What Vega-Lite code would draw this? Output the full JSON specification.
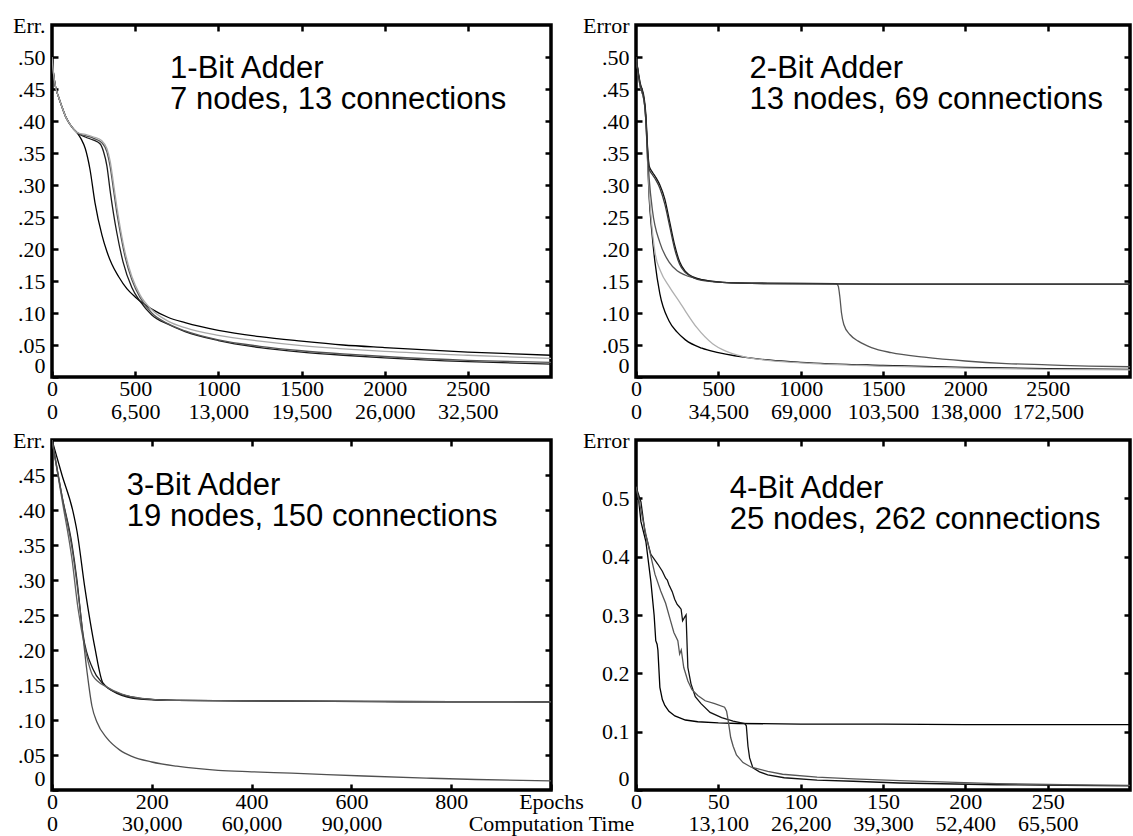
{
  "$schema": "https://vega.github.io/schema/vega-lite/v6.json",
  "background": "white",
  "padding": {"left": 10, "top": 12, "right": 0, "bottom": 0},
  "autosize": {"type": "pad"},
  "config": {
    "view": {"stroke": "#000000", "strokeWidth": 3.5, "strokeOpacity": 1},
    "axis": {"grid": false, "domain": false, "ticks": true, "tickColor": "#000000", "tickOpacity": 1, "tickWidth": 2.5, "tickSize": 6, "offset": -6, "labelFont": "Liberation Serif", "labelFontSize": 22, "labelColor": "black", "titleFont": "Liberation Serif", "titleFontSize": 22, "titleFontWeight": "normal", "titleColor": "black", "labelOverlap": false},
    "line": {"strokeWidth": 1.3},
    "text": {"font": "Liberation Sans", "fontSize": 31, "lineHeight": 31, "align": "left", "baseline": "alphabetic", "color": "black"}
  },
  "columns": 2,
  "spacing": {"row": 63, "column": 85},
  "bounds": "flush",
  "resolve": {"scale": {"color": "independent"}},
  "datasets": {
    "p1": [
      {"run":"a","epoch":0,"err":0.5},{"run":"a","epoch":10,"err":0.472},{"run":"a","epoch":20,"err":0.455},{"run":"a","epoch":40,"err":0.437},{"run":"a","epoch":60,"err":0.422},{"run":"a","epoch":80,"err":0.408},{"run":"a","epoch":100,"err":0.398},{"run":"a","epoch":125,"err":0.389},{"run":"a","epoch":150,"err":0.382},{"run":"a","epoch":175,"err":0.372},{"run":"a","epoch":200,"err":0.357},{"run":"a","epoch":228,"err":0.325},{"run":"a","epoch":258,"err":0.273},{"run":"a","epoch":300,"err":0.222},{"run":"a","epoch":330,"err":0.196},{"run":"a","epoch":360,"err":0.176},{"run":"a","epoch":400,"err":0.157},{"run":"a","epoch":450,"err":0.138},{"run":"a","epoch":500,"err":0.125},{"run":"a","epoch":600,"err":0.106},{"run":"a","epoch":700,"err":0.093},{"run":"a","epoch":800,"err":0.085},{"run":"a","epoch":1000,"err":0.073},{"run":"a","epoch":1250,"err":0.063},{"run":"a","epoch":1500,"err":0.056},{"run":"a","epoch":1750,"err":0.05},{"run":"a","epoch":2000,"err":0.046},{"run":"a","epoch":2500,"err":0.039},{"run":"a","epoch":3000,"err":0.034},
      {"run":"b","epoch":0,"err":0.5},{"run":"b","epoch":10,"err":0.472},{"run":"b","epoch":20,"err":0.455},{"run":"b","epoch":40,"err":0.437},{"run":"b","epoch":60,"err":0.422},{"run":"b","epoch":80,"err":0.408},{"run":"b","epoch":100,"err":0.398},{"run":"b","epoch":125,"err":0.389},{"run":"b","epoch":150,"err":0.382},{"run":"b","epoch":200,"err":0.375},{"run":"b","epoch":250,"err":0.37},{"run":"b","epoch":290,"err":0.364},{"run":"b","epoch":310,"err":0.352},{"run":"b","epoch":330,"err":0.33},{"run":"b","epoch":350,"err":0.29},{"run":"b","epoch":370,"err":0.255},{"run":"b","epoch":390,"err":0.225},{"run":"b","epoch":427,"err":0.18},{"run":"b","epoch":480,"err":0.14},{"run":"b","epoch":530,"err":0.118},{"run":"b","epoch":600,"err":0.097},{"run":"b","epoch":700,"err":0.082},{"run":"b","epoch":800,"err":0.071},{"run":"b","epoch":1000,"err":0.057},{"run":"b","epoch":1250,"err":0.046},{"run":"b","epoch":1500,"err":0.039},{"run":"b","epoch":1750,"err":0.034},{"run":"b","epoch":2000,"err":0.03},{"run":"b","epoch":2500,"err":0.024},{"run":"b","epoch":3000,"err":0.02},
      {"run":"c","epoch":0,"err":0.5},{"run":"c","epoch":10,"err":0.472},{"run":"c","epoch":20,"err":0.455},{"run":"c","epoch":40,"err":0.437},{"run":"c","epoch":60,"err":0.422},{"run":"c","epoch":80,"err":0.408},{"run":"c","epoch":100,"err":0.398},{"run":"c","epoch":125,"err":0.389},{"run":"c","epoch":150,"err":0.382},{"run":"c","epoch":200,"err":0.377},{"run":"c","epoch":250,"err":0.373},{"run":"c","epoch":300,"err":0.366},{"run":"c","epoch":330,"err":0.352},{"run":"c","epoch":350,"err":0.328},{"run":"c","epoch":370,"err":0.292},{"run":"c","epoch":390,"err":0.256},{"run":"c","epoch":410,"err":0.226},{"run":"c","epoch":440,"err":0.187},{"run":"c","epoch":480,"err":0.152},{"run":"c","epoch":530,"err":0.124},{"run":"c","epoch":600,"err":0.1},{"run":"c","epoch":700,"err":0.083},{"run":"c","epoch":800,"err":0.072},{"run":"c","epoch":1000,"err":0.058},{"run":"c","epoch":1250,"err":0.048},{"run":"c","epoch":1500,"err":0.041},{"run":"c","epoch":1750,"err":0.036},{"run":"c","epoch":2000,"err":0.032},{"run":"c","epoch":2500,"err":0.026},{"run":"c","epoch":3000,"err":0.023},
      {"run":"d","epoch":0,"err":0.5},{"run":"d","epoch":10,"err":0.472},{"run":"d","epoch":20,"err":0.455},{"run":"d","epoch":40,"err":0.437},{"run":"d","epoch":60,"err":0.422},{"run":"d","epoch":80,"err":0.408},{"run":"d","epoch":100,"err":0.398},{"run":"d","epoch":125,"err":0.389},{"run":"d","epoch":150,"err":0.382},{"run":"d","epoch":200,"err":0.379},{"run":"d","epoch":250,"err":0.375},{"run":"d","epoch":300,"err":0.369},{"run":"d","epoch":330,"err":0.357},{"run":"d","epoch":350,"err":0.337},{"run":"d","epoch":370,"err":0.302},{"run":"d","epoch":390,"err":0.266},{"run":"d","epoch":410,"err":0.234},{"run":"d","epoch":440,"err":0.194},{"run":"d","epoch":480,"err":0.157},{"run":"d","epoch":530,"err":0.128},{"run":"d","epoch":600,"err":0.105},{"run":"d","epoch":700,"err":0.087},{"run":"d","epoch":800,"err":0.077},{"run":"d","epoch":1000,"err":0.065},{"run":"d","epoch":1250,"err":0.056},{"run":"d","epoch":1500,"err":0.049},{"run":"d","epoch":1750,"err":0.044},{"run":"d","epoch":2000,"err":0.04},{"run":"d","epoch":2500,"err":0.034},{"run":"d","epoch":3000,"err":0.029}
    ],
    "p2": [
      {"run":"e","epoch":0,"err":0.5},{"run":"e","epoch":25,"err":0.455},{"run":"e","epoch":50,"err":0.43},{"run":"e","epoch":60,"err":0.4},{"run":"e","epoch":70,"err":0.34},{"run":"e","epoch":80,"err":0.28},{"run":"e","epoch":95,"err":0.23},{"run":"e","epoch":115,"err":0.18},{"run":"e","epoch":145,"err":0.13},{"run":"e","epoch":200,"err":0.088},{"run":"e","epoch":250,"err":0.07},{"run":"e","epoch":300,"err":0.058},{"run":"e","epoch":400,"err":0.045},{"run":"e","epoch":500,"err":0.038},{"run":"e","epoch":750,"err":0.028},{"run":"e","epoch":1000,"err":0.023},{"run":"e","epoch":1500,"err":0.018},{"run":"e","epoch":2000,"err":0.015},{"run":"e","epoch":2500,"err":0.013},{"run":"e","epoch":3000,"err":0.012},
      {"run":"f","epoch":0,"err":0.5},{"run":"f","epoch":25,"err":0.455},{"run":"f","epoch":50,"err":0.43},{"run":"f","epoch":60,"err":0.4},{"run":"f","epoch":70,"err":0.345},{"run":"f","epoch":80,"err":0.29},{"run":"f","epoch":95,"err":0.24},{"run":"f","epoch":115,"err":0.195},{"run":"f","epoch":150,"err":0.165},{"run":"f","epoch":200,"err":0.142},{"run":"f","epoch":265,"err":0.117},{"run":"f","epoch":300,"err":0.103},{"run":"f","epoch":370,"err":0.077},{"run":"f","epoch":465,"err":0.052},{"run":"f","epoch":550,"err":0.04},{"run":"f","epoch":650,"err":0.032},{"run":"f","epoch":800,"err":0.026},{"run":"f","epoch":1000,"err":0.022},{"run":"f","epoch":1500,"err":0.017},{"run":"f","epoch":2000,"err":0.014},{"run":"f","epoch":2500,"err":0.012},{"run":"f","epoch":3000,"err":0.011},
      {"run":"g","epoch":0,"err":0.5},{"run":"g","epoch":25,"err":0.455},{"run":"g","epoch":50,"err":0.43},{"run":"g","epoch":60,"err":0.4},{"run":"g","epoch":70,"err":0.35},{"run":"g","epoch":80,"err":0.31},{"run":"g","epoch":100,"err":0.26},{"run":"g","epoch":145,"err":0.21},{"run":"g","epoch":200,"err":0.18},{"run":"g","epoch":250,"err":0.166},{"run":"g","epoch":300,"err":0.159},{"run":"g","epoch":400,"err":0.152},{"run":"g","epoch":525,"err":0.148},{"run":"g","epoch":800,"err":0.147},{"run":"g","epoch":1215,"err":0.146},{"run":"g","epoch":1228,"err":0.142},{"run":"g","epoch":1238,"err":0.125},{"run":"g","epoch":1248,"err":0.1},{"run":"g","epoch":1262,"err":0.082},{"run":"g","epoch":1300,"err":0.066},{"run":"g","epoch":1350,"err":0.056},{"run":"g","epoch":1430,"err":0.046},{"run":"g","epoch":1550,"err":0.038},{"run":"g","epoch":1750,"err":0.031},{"run":"g","epoch":2000,"err":0.025},{"run":"g","epoch":2250,"err":0.021},{"run":"g","epoch":2500,"err":0.019},{"run":"g","epoch":2750,"err":0.017},{"run":"g","epoch":3000,"err":0.016},
      {"run":"h","epoch":0,"err":0.5},{"run":"h","epoch":25,"err":0.46},{"run":"h","epoch":50,"err":0.435},{"run":"h","epoch":60,"err":0.41},{"run":"h","epoch":70,"err":0.36},{"run":"h","epoch":80,"err":0.33},{"run":"h","epoch":100,"err":0.32},{"run":"h","epoch":120,"err":0.312},{"run":"h","epoch":145,"err":0.3},{"run":"h","epoch":175,"err":0.278},{"run":"h","epoch":205,"err":0.242},{"run":"h","epoch":235,"err":0.206},{"run":"h","epoch":265,"err":0.18},{"run":"h","epoch":300,"err":0.165},{"run":"h","epoch":350,"err":0.156},{"run":"h","epoch":400,"err":0.152},{"run":"h","epoch":525,"err":0.148},{"run":"h","epoch":800,"err":0.146},{"run":"h","epoch":1500,"err":0.145},{"run":"h","epoch":3000,"err":0.145},
      {"run":"i","epoch":0,"err":0.5},{"run":"i","epoch":25,"err":0.458},{"run":"i","epoch":50,"err":0.432},{"run":"i","epoch":60,"err":0.405},{"run":"i","epoch":70,"err":0.355},{"run":"i","epoch":80,"err":0.325},{"run":"i","epoch":100,"err":0.316},{"run":"i","epoch":120,"err":0.308},{"run":"i","epoch":145,"err":0.295},{"run":"i","epoch":175,"err":0.27},{"run":"i","epoch":205,"err":0.235},{"run":"i","epoch":235,"err":0.2},{"run":"i","epoch":265,"err":0.176},{"run":"i","epoch":300,"err":0.163},{"run":"i","epoch":350,"err":0.155},{"run":"i","epoch":400,"err":0.151},{"run":"i","epoch":525,"err":0.148},{"run":"i","epoch":800,"err":0.146},{"run":"i","epoch":1500,"err":0.145},{"run":"i","epoch":3000,"err":0.145}
    ],
    "p3": [
      {"run":"j","epoch":0,"err":0.5},{"run":"j","epoch":20,"err":0.45},{"run":"j","epoch":42,"err":0.398},{"run":"j","epoch":50,"err":0.37},{"run":"j","epoch":66,"err":0.288},{"run":"j","epoch":86,"err":0.203},{"run":"j","epoch":102,"err":0.153},{"run":"j","epoch":130,"err":0.139},{"run":"j","epoch":176,"err":0.131},{"run":"j","epoch":250,"err":0.128},{"run":"j","epoch":477,"err":0.127},{"run":"j","epoch":700,"err":0.126},{"run":"j","epoch":1000,"err":0.126},
      {"run":"k","epoch":0,"err":0.5},{"run":"k","epoch":20,"err":0.42},{"run":"k","epoch":40,"err":0.351},{"run":"k","epoch":50,"err":0.3},{"run":"k","epoch":62,"err":0.223},{"run":"k","epoch":82,"err":0.173},{"run":"k","epoch":102,"err":0.152},{"run":"k","epoch":130,"err":0.138},{"run":"k","epoch":176,"err":0.13},{"run":"k","epoch":250,"err":0.128},{"run":"k","epoch":500,"err":0.127},{"run":"k","epoch":1000,"err":0.126},
      {"run":"l","epoch":0,"err":0.5},{"run":"l","epoch":20,"err":0.415},{"run":"l","epoch":40,"err":0.33},{"run":"l","epoch":52,"err":0.26},{"run":"l","epoch":66,"err":0.203},{"run":"l","epoch":82,"err":0.163},{"run":"l","epoch":110,"err":0.147},{"run":"l","epoch":140,"err":0.137},{"run":"l","epoch":180,"err":0.131},{"run":"l","epoch":250,"err":0.128},{"run":"l","epoch":500,"err":0.127},{"run":"l","epoch":1000,"err":0.126},
      {"run":"m","epoch":0,"err":0.5},{"run":"m","epoch":20,"err":0.42},{"run":"m","epoch":42,"err":0.337},{"run":"m","epoch":56,"err":0.26},{"run":"m","epoch":70,"err":0.17},{"run":"m","epoch":80,"err":0.12},{"run":"m","epoch":90,"err":0.097},{"run":"m","epoch":110,"err":0.074},{"run":"m","epoch":136,"err":0.057},{"run":"m","epoch":160,"err":0.048},{"run":"m","epoch":200,"err":0.04},{"run":"m","epoch":250,"err":0.034},{"run":"m","epoch":333,"err":0.028},{"run":"m","epoch":400,"err":0.026},{"run":"m","epoch":480,"err":0.024},{"run":"m","epoch":625,"err":0.02},{"run":"m","epoch":750,"err":0.017},{"run":"m","epoch":850,"err":0.015},{"run":"m","epoch":1000,"err":0.013}
    ],
    "p4": [
      {"run":"n","epoch":0,"err":0.52},{"run":"n","epoch":1.5,"err":0.5},{"run":"n","epoch":3,"err":0.46},{"run":"n","epoch":6,"err":0.426},{"run":"n","epoch":9,"err":0.358},{"run":"n","epoch":11,"err":0.3},{"run":"n","epoch":12,"err":0.256},{"run":"n","epoch":12.8,"err":0.25},{"run":"n","epoch":13.3,"err":0.24},{"run":"n","epoch":14.5,"err":0.176},{"run":"n","epoch":16,"err":0.155},{"run":"n","epoch":17.5,"err":0.145},{"run":"n","epoch":20,"err":0.135},{"run":"n","epoch":23.6,"err":0.127},{"run":"n","epoch":30,"err":0.12},{"run":"n","epoch":37.5,"err":0.117},{"run":"n","epoch":50,"err":0.115},{"run":"n","epoch":62,"err":0.114},{"run":"n","epoch":100,"err":0.113},{"run":"n","epoch":150,"err":0.113},{"run":"n","epoch":200,"err":0.112},{"run":"n","epoch":300,"err":0.112},
      {"run":"o","epoch":0,"err":0.52},{"run":"o","epoch":3,"err":0.494},{"run":"o","epoch":5.4,"err":0.443},{"run":"o","epoch":9,"err":0.404},{"run":"o","epoch":13.3,"err":0.387},{"run":"o","epoch":16,"err":0.375},{"run":"o","epoch":18,"err":0.363},{"run":"o","epoch":19,"err":0.36},{"run":"o","epoch":20,"err":0.352},{"run":"o","epoch":22,"err":0.34},{"run":"o","epoch":23.5,"err":0.327},{"run":"o","epoch":25,"err":0.318},{"run":"o","epoch":26,"err":0.315},{"run":"o","epoch":27.4,"err":0.31},{"run":"o","epoch":28.3,"err":0.29},{"run":"o","epoch":29.3,"err":0.295},{"run":"o","epoch":30.4,"err":0.3},{"run":"o","epoch":31.5,"err":0.21},{"run":"o","epoch":33.4,"err":0.182},{"run":"o","epoch":36,"err":0.16},{"run":"o","epoch":39.5,"err":0.148},{"run":"o","epoch":45,"err":0.133},{"run":"o","epoch":52,"err":0.124},{"run":"o","epoch":59,"err":0.118},{"run":"o","epoch":66,"err":0.114},{"run":"o","epoch":67,"err":0.11},{"run":"o","epoch":68,"err":0.075},{"run":"o","epoch":69,"err":0.055},{"run":"o","epoch":71,"err":0.038},{"run":"o","epoch":75,"err":0.031},{"run":"o","epoch":80,"err":0.026},{"run":"o","epoch":90,"err":0.021},{"run":"o","epoch":110,"err":0.017},{"run":"o","epoch":132,"err":0.015},{"run":"o","epoch":160,"err":0.012},{"run":"o","epoch":219,"err":0.009},{"run":"o","epoch":260,"err":0.008},{"run":"o","epoch":300,"err":0.007},
      {"run":"p","epoch":0,"err":0.52},{"run":"p","epoch":3,"err":0.48},{"run":"p","epoch":6,"err":0.438},{"run":"p","epoch":11.5,"err":0.37},{"run":"p","epoch":15,"err":0.341},{"run":"p","epoch":18,"err":0.32},{"run":"p","epoch":21,"err":0.29},{"run":"p","epoch":23,"err":0.27},{"run":"p","epoch":25.4,"err":0.256},{"run":"p","epoch":26.5,"err":0.233},{"run":"p","epoch":27.5,"err":0.24},{"run":"p","epoch":29,"err":0.21},{"run":"p","epoch":31.5,"err":0.187},{"run":"p","epoch":34,"err":0.172},{"run":"p","epoch":37.5,"err":0.162},{"run":"p","epoch":42,"err":0.153},{"run":"p","epoch":47.8,"err":0.148},{"run":"p","epoch":53.8,"err":0.142},{"run":"p","epoch":55,"err":0.135},{"run":"p","epoch":56,"err":0.119},{"run":"p","epoch":57.5,"err":0.09},{"run":"p","epoch":59,"err":0.075},{"run":"p","epoch":61,"err":0.06},{"run":"p","epoch":65,"err":0.047},{"run":"p","epoch":70,"err":0.039},{"run":"p","epoch":80,"err":0.032},{"run":"p","epoch":89,"err":0.027},{"run":"p","epoch":110,"err":0.022},{"run":"p","epoch":132,"err":0.019},{"run":"p","epoch":160,"err":0.016},{"run":"p","epoch":219,"err":0.011},{"run":"p","epoch":260,"err":0.009},{"run":"p","epoch":300,"err":0.008}
    ]
  },
  "concat": [
    {
      "width": 499, "height": 352,
      "view": {"stroke": "#000000", "strokeWidth": 3.5, "strokeOpacity": 1},
      "resolve": {"axis": {"x": "independent", "y": "independent"}},
      "layer": [
        {
          "data": {"name": "p1"},
          "mark": {"type": "line", "interpolate": "monotone", "clip": true},
          "encoding": {
            "x": {"field": "epoch", "type": "quantitative", "scale": {"domain": [0, 3000], "nice": false}, "axis": {"orient": "bottom", "offset": -6, "values": [0, 500, 1000, 1500, 2000, 2500], "labelExpr": "[format(datum.value, 'd'), format(datum.value * 13, ',')]", "labelBaseline": "top", "labelPadding": 1, "labelLineHeight": 23, "labelFlush": false, "title": null, "domain": false, "ticks": true, "tickColor": "#000000", "tickOpacity": 1, "tickWidth": 2.5, "tickSize": 6}},
            "y": {"field": "err", "type": "quantitative", "scale": {"domain": [0, 0.55], "nice": false}, "axis": {"orient": "left", "offset": -6, "values": [0, 0.05, 0.1, 0.15, 0.2, 0.25, 0.3, 0.35, 0.4, 0.45, 0.5], "labelExpr": "datum.value == 0 ? '0' : replace(format(datum.value, '.2f'), '0.', '.')", "labelFlush": true, "labelFlushOffset": 0, "labelPadding": 7, "title": "Err.", "titleAngle": 0, "titleX": -13, "titleY": 0, "titleAlign": "right", "titleBaseline": "middle", "domain": false, "ticks": true, "tickColor": "#000000", "tickOpacity": 1, "tickWidth": 2.5, "tickSize": 6}},
            "color": {"field": "run", "type": "nominal", "scale": {"domain": ["a", "b", "c", "d"], "range": ["#000000", "#1a1a1a", "#555555", "#a8a8a8"]}, "legend": null}
          }
        },
        {
          "data": {"values": [{}]},
          "mark": {"type": "text"},
          "encoding": {
            "x": {"datum": 710, "type": "quantitative", "axis": {"orient": "top", "offset": -6, "values": [500, 1000, 1500, 2000, 2500], "labels": false, "title": null, "domain": false, "ticks": true, "tickColor": "#000000", "tickOpacity": 1, "tickWidth": 2.5, "tickSize": 6}},
            "y": {"datum": 0.467, "type": "quantitative", "axis": {"orient": "right", "offset": -6, "values": [0.05, 0.1, 0.15, 0.2, 0.25, 0.3, 0.35, 0.4, 0.45, 0.5], "labels": false, "title": null, "domain": false, "ticks": true, "tickColor": "#000000", "tickOpacity": 1, "tickWidth": 2.5, "tickSize": 6}},
            "text": {"value": ["1-Bit Adder", "7 nodes, 13 connections"]}
          }
        }
      ]
    },
    {
      "width": 494, "height": 352,
      "view": {"stroke": "#000000", "strokeWidth": 3.5, "strokeOpacity": 1},
      "resolve": {"axis": {"x": "independent", "y": "independent"}},
      "layer": [
        {
          "data": {"name": "p2"},
          "mark": {"type": "line", "interpolate": "monotone", "clip": true},
          "encoding": {
            "x": {"field": "epoch", "type": "quantitative", "scale": {"domain": [0, 3000], "nice": false}, "axis": {"orient": "bottom", "offset": -6, "values": [0, 500, 1000, 1500, 2000, 2500], "labelExpr": "[format(datum.value, 'd'), format(datum.value * 69, ',')]", "labelBaseline": "top", "labelPadding": 1, "labelLineHeight": 23, "labelFlush": false, "title": null, "domain": false, "ticks": true, "tickColor": "#000000", "tickOpacity": 1, "tickWidth": 2.5, "tickSize": 6}},
            "y": {"field": "err", "type": "quantitative", "scale": {"domain": [0, 0.55], "nice": false}, "axis": {"orient": "left", "offset": -6, "values": [0, 0.05, 0.1, 0.15, 0.2, 0.25, 0.3, 0.35, 0.4, 0.45, 0.5], "labelExpr": "datum.value == 0 ? '0' : replace(format(datum.value, '.2f'), '0.', '.')", "labelFlush": true, "labelFlushOffset": 0, "labelPadding": 7, "title": "Error", "titleAngle": 0, "titleX": -13, "titleY": 0, "titleAlign": "right", "titleBaseline": "middle", "domain": false, "ticks": true, "tickColor": "#000000", "tickOpacity": 1, "tickWidth": 2.5, "tickSize": 6}},
            "color": {"field": "run", "type": "nominal", "scale": {"domain": ["e", "f", "g", "h", "i"], "range": ["#000000", "#b0b0b0", "#555555", "#111111", "#3a3a3a"]}, "legend": null}
          }
        },
        {
          "data": {"values": [{}]},
          "mark": {"type": "text"},
          "encoding": {
            "x": {"datum": 690, "type": "quantitative", "axis": {"orient": "top", "offset": -6, "values": [500, 1000, 1500, 2000, 2500], "labels": false, "title": null, "domain": false, "ticks": true, "tickColor": "#000000", "tickOpacity": 1, "tickWidth": 2.5, "tickSize": 6}},
            "y": {"datum": 0.467, "type": "quantitative", "axis": {"orient": "right", "offset": -6, "values": [0.05, 0.1, 0.15, 0.2, 0.25, 0.3, 0.35, 0.4, 0.45, 0.5], "labels": false, "title": null, "domain": false, "ticks": true, "tickColor": "#000000", "tickOpacity": 1, "tickWidth": 2.5, "tickSize": 6}},
            "text": {"value": ["2-Bit Adder", "13 nodes, 69 connections"]}
          }
        }
      ]
    },
    {
      "width": 499, "height": 350,
      "view": {"stroke": "#000000", "strokeWidth": 3.5, "strokeOpacity": 1},
      "resolve": {"axis": {"x": "independent", "y": "independent"}},
      "layer": [
        {
          "data": {"name": "p3"},
          "mark": {"type": "line", "interpolate": "monotone", "clip": true},
          "encoding": {
            "x": {"field": "epoch", "type": "quantitative", "scale": {"domain": [0, 1000], "nice": false}, "axis": {"orient": "bottom", "offset": -6, "values": [0, 200, 400, 600, 800, 1000], "labelExpr": "datum.value == 1000 ? ['Epochs', 'Computation Time'] : datum.value == 800 ? '800' : [format(datum.value, 'd'), format(datum.value * 150, ',')]", "labelBaseline": "top", "labelPadding": 1, "labelLineHeight": 22, "labelFlush": false, "title": null, "domain": false, "ticks": true, "tickColor": "#000000", "tickOpacity": 1, "tickWidth": 2.5, "tickSize": 6}},
            "y": {"field": "err", "type": "quantitative", "scale": {"domain": [0, 0.5], "nice": false}, "axis": {"orient": "left", "offset": -6, "values": [0, 0.05, 0.1, 0.15, 0.2, 0.25, 0.3, 0.35, 0.4, 0.45], "labelExpr": "datum.value == 0 ? '0' : replace(format(datum.value, '.2f'), '0.', '.')", "labelFlush": true, "labelFlushOffset": 0, "labelPadding": 7, "title": "Err.", "titleAngle": 0, "titleX": -13, "titleY": 0, "titleAlign": "right", "titleBaseline": "middle", "domain": false, "ticks": true, "tickColor": "#000000", "tickOpacity": 1, "tickWidth": 2.5, "tickSize": 6}},
            "color": {"field": "run", "type": "nominal", "scale": {"domain": ["j", "k", "l", "m"], "range": ["#000000", "#1a1a1a", "#606060", "#505050"]}, "legend": null}
          }
        },
        {
          "data": {"values": [{}]},
          "mark": {"type": "text"},
          "encoding": {
            "x": {"datum": 150, "type": "quantitative", "axis": {"orient": "top", "offset": -6, "values": [200, 400, 600, 800], "labels": false, "title": null, "domain": false, "ticks": true, "tickColor": "#000000", "tickOpacity": 1, "tickWidth": 2.5, "tickSize": 6}},
            "y": {"datum": 0.422, "type": "quantitative", "axis": {"orient": "right", "offset": -6, "values": [0.05, 0.1, 0.15, 0.2, 0.25, 0.3, 0.35, 0.4, 0.45], "labels": false, "title": null, "domain": false, "ticks": true, "tickColor": "#000000", "tickOpacity": 1, "tickWidth": 2.5, "tickSize": 6}},
            "text": {"value": ["3-Bit Adder", "19 nodes, 150 connections"]}
          }
        }
      ]
    },
    {
      "width": 494, "height": 350,
      "view": {"stroke": "#000000", "strokeWidth": 3.5, "strokeOpacity": 1},
      "resolve": {"axis": {"x": "independent", "y": "independent"}},
      "layer": [
        {
          "data": {"name": "p4"},
          "mark": {"type": "line", "interpolate": "linear", "clip": true},
          "encoding": {
            "x": {"field": "epoch", "type": "quantitative", "scale": {"domain": [0, 300], "nice": false}, "axis": {"orient": "bottom", "offset": -6, "values": [0, 50, 100, 150, 200, 250], "labelExpr": "datum.value == 0 ? '0' : [format(datum.value, 'd'), format(datum.value * 262, ',')]", "labelBaseline": "top", "labelPadding": 1, "labelLineHeight": 22, "labelFlush": false, "title": null, "domain": false, "ticks": true, "tickColor": "#000000", "tickOpacity": 1, "tickWidth": 2.5, "tickSize": 6}},
            "y": {"field": "err", "type": "quantitative", "scale": {"domain": [0, 0.6], "nice": false}, "axis": {"orient": "left", "offset": -6, "values": [0, 0.1, 0.2, 0.3, 0.4, 0.5], "labelExpr": "datum.value == 0 ? '0' : format(datum.value, '.1f')", "labelFlush": true, "labelFlushOffset": 0, "labelPadding": 7, "title": "Error", "titleAngle": 0, "titleX": -13, "titleY": 0, "titleAlign": "right", "titleBaseline": "middle", "domain": false, "ticks": true, "tickColor": "#000000", "tickOpacity": 1, "tickWidth": 2.5, "tickSize": 6}},
            "color": {"field": "run", "type": "nominal", "scale": {"domain": ["n", "o", "p"], "range": ["#000000", "#111111", "#555555"]}, "legend": null}
          }
        },
        {
          "data": {"values": [{}]},
          "mark": {"type": "text"},
          "encoding": {
            "x": {"datum": 57, "type": "quantitative", "axis": {"orient": "top", "offset": -6, "values": [50, 100, 150, 200, 250], "labels": false, "title": null, "domain": false, "ticks": true, "tickColor": "#000000", "tickOpacity": 1, "tickWidth": 2.5, "tickSize": 6}},
            "y": {"datum": 0.501, "type": "quantitative", "axis": {"orient": "right", "offset": -6, "values": [0.1, 0.2, 0.3, 0.4, 0.5], "labels": false, "title": null, "domain": false, "ticks": true, "tickColor": "#000000", "tickOpacity": 1, "tickWidth": 2.5, "tickSize": 6}},
            "text": {"value": ["4-Bit Adder", "25 nodes, 262 connections"]}
          }
        }
      ]
    }
  ]
}
